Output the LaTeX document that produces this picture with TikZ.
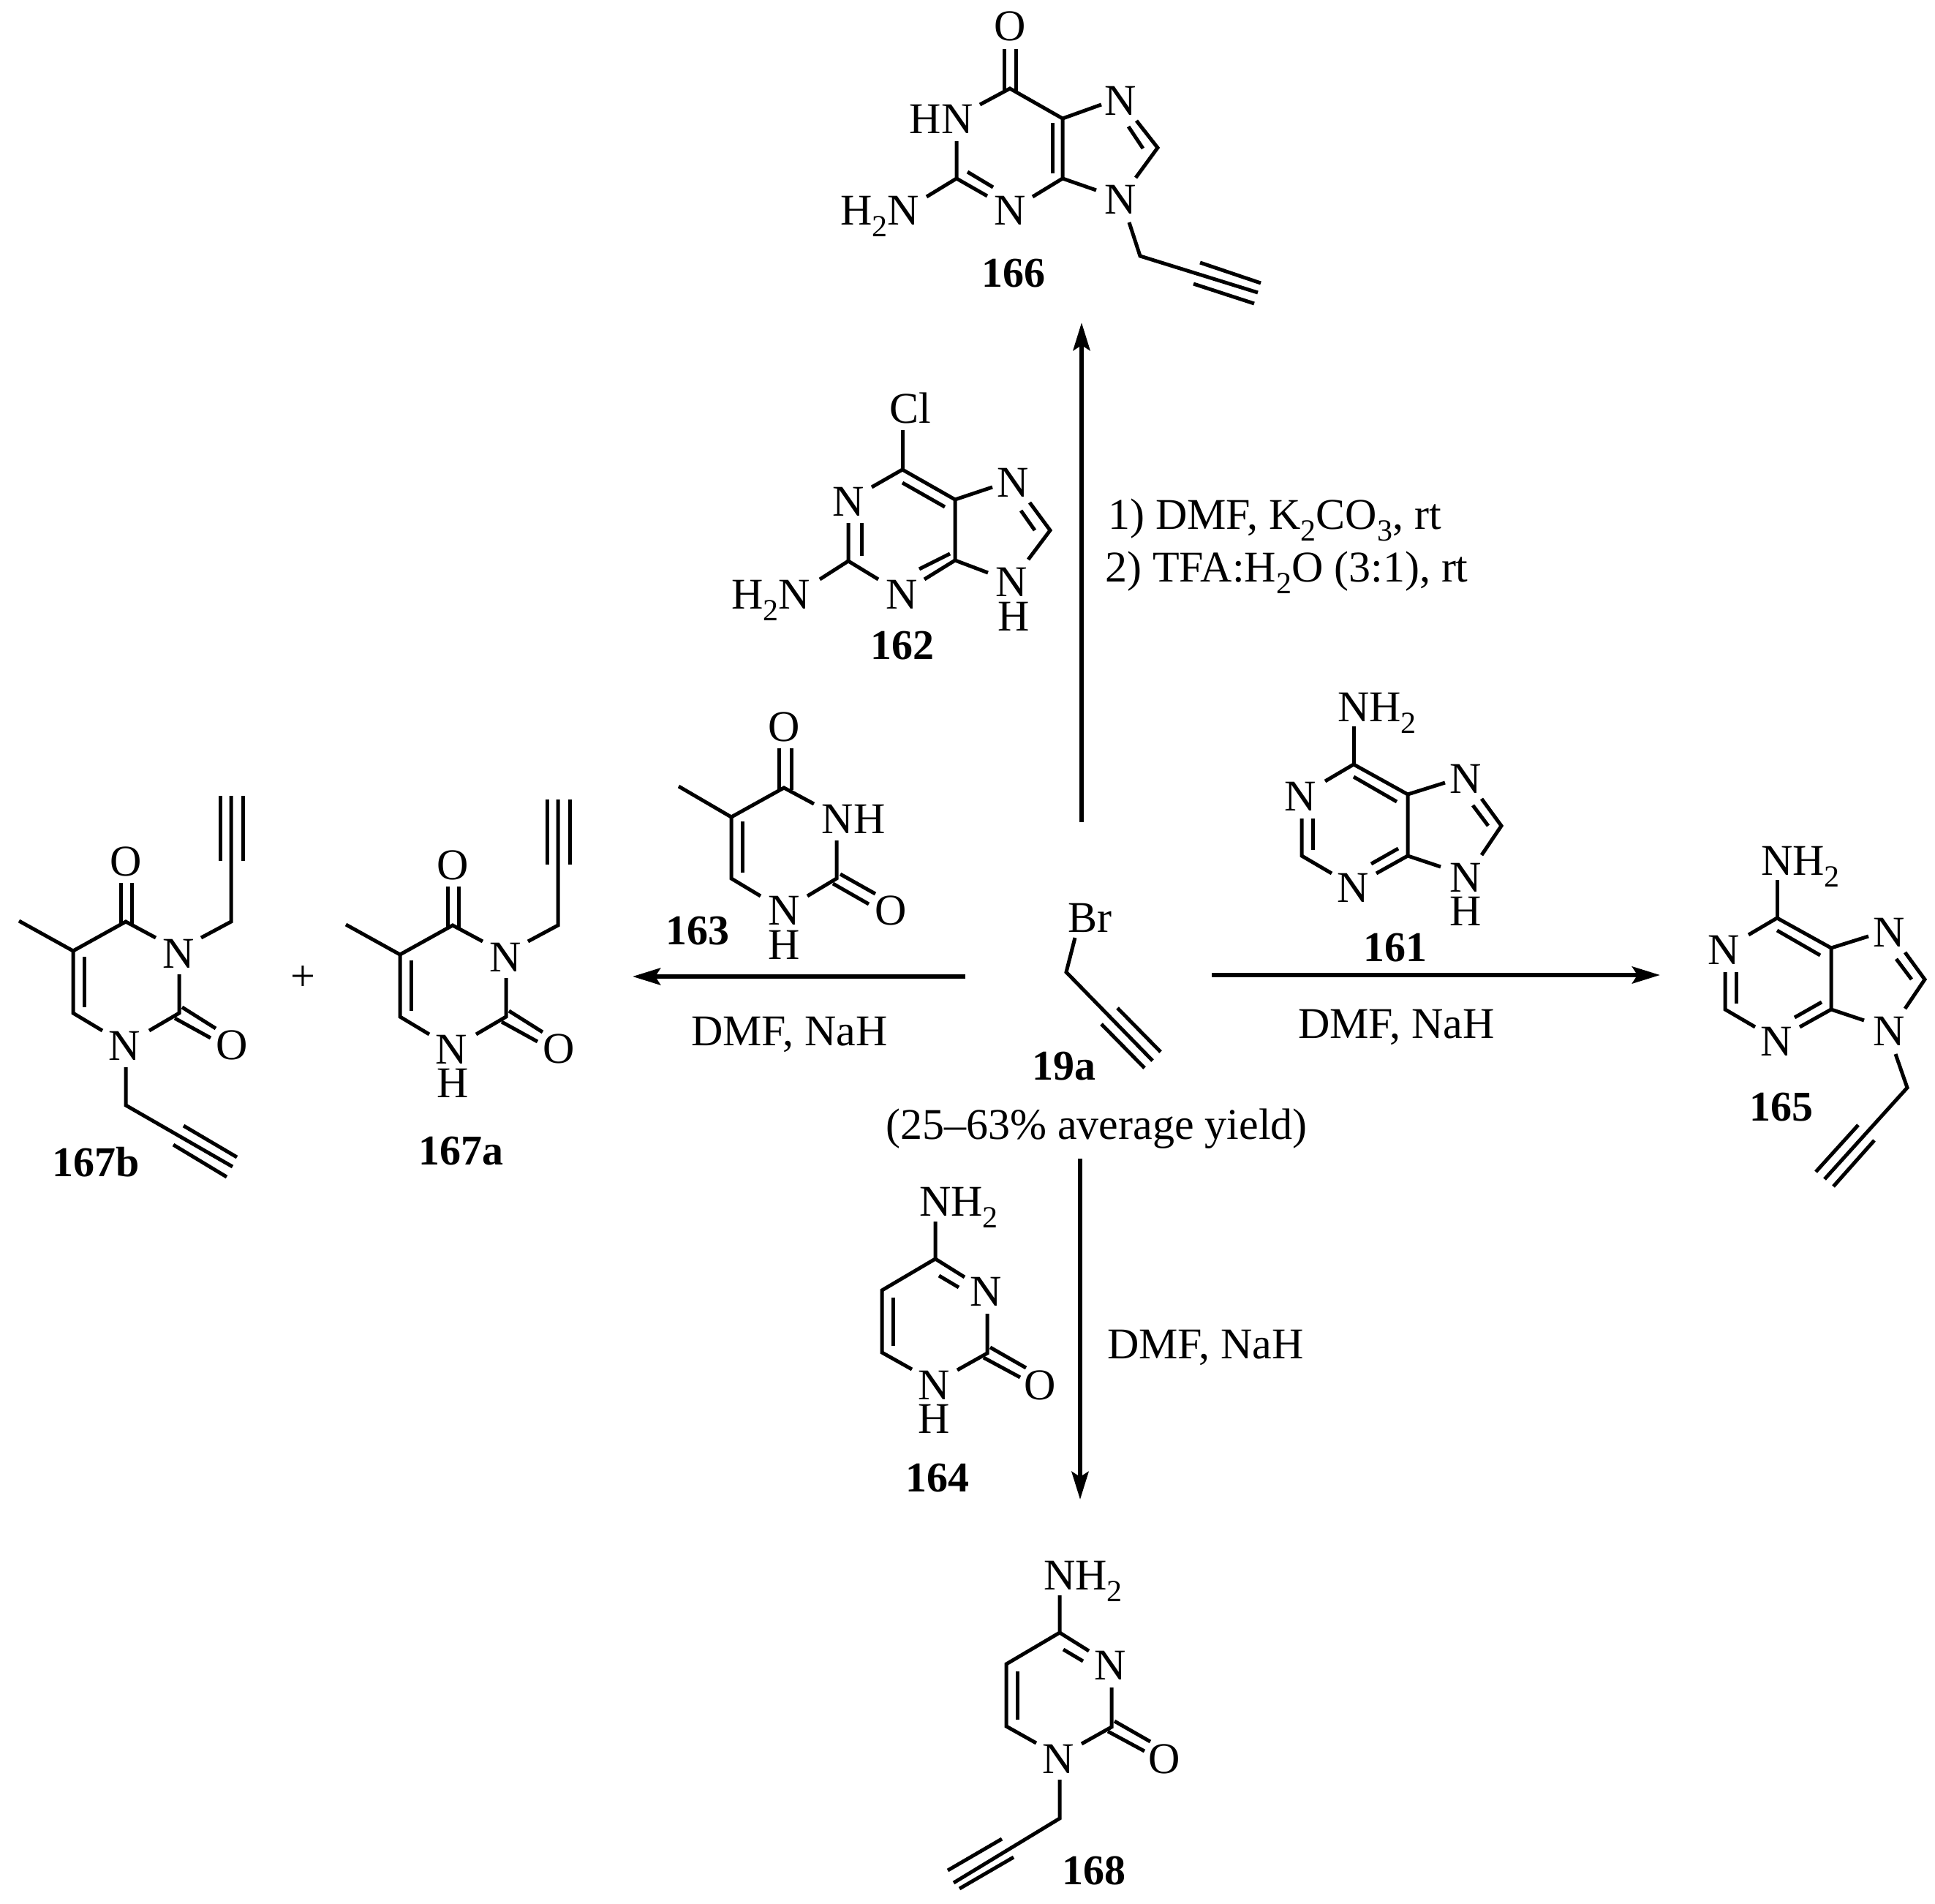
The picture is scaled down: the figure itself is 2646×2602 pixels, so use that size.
\documentclass[tikz,border=0pt]{standalone}
\usepackage{fontspec}
\setmainfont{Liberation Serif}
\usetikzlibrary{arrows.meta}
\newcommand{\subnum}[1]{\raisebox{-16pt}{\fontsize{42}{42}\selectfont #1}}
\tikzset{
  bond/.style={draw=black,line width=5pt,line join=miter},
  rxn/.style={draw=black,line width=6pt,-{Stealth[length=38pt,width=23pt,inset=7pt]}},
  atom/.style={inner sep=0pt,anchor=base,yshift=-20pt,font=\fontsize{60}{62}\selectfont},
  cpd/.style={inner sep=0pt,anchor=base,yshift=-19pt,font=\fontsize{58}{60}\selectfont\bfseries},
  cond/.style={inner sep=0pt,anchor=base west,font=\fontsize{60}{62}\selectfont},
}
% adenine skeleton, drawn at the position of 161
\newcommand{\adenineCore}{%
  \draw[bond] (1851,993)--(1851,1045);
  \draw[bond] (1812,1068)--(1851,1045)--(1925,1086)--(1925,1170)--(1970,1185);
  \draw[bond] (1851,1062)--(1910,1096);
  \draw[bond] (1976,1070)--(1925,1086);
  \draw[bond] (1780,1119)--(1780,1170)--(1821,1194);
  \draw[bond] (1795,1119)--(1795,1162);
  \draw[bond] (1882,1194)--(1925,1170);
  \draw[bond] (1875,1181)--(1912,1160);
  \draw[bond] (2026,1092)--(2053,1129)--(2026,1169);
  \draw[bond] (2014,1101)--(2035,1129);
  \node[atom] (nh) at (1883,966) {NH\subnum{2}};
  \node[atom] (n1) at (1778,1088) {N};
  \node[atom] (n3) at (1850,1213) {N};
  \node[atom] (n7) at (2004,1064) {N};
  \node[atom] (n9) at (2004,1199) {N};
}
% cytosine skeleton, drawn at the position of 164
\newcommand{\cytosineCore}{%
  \draw[bond] (1279,1670)--(1279,1721)--(1206,1764)--(1206,1849)--(1247,1872);
  \draw[bond] (1319,1746)--(1279,1721);
  \draw[bond] (1284,1744)--(1311,1760);
  \draw[bond] (1221,1774)--(1221,1840);
  \draw[bond] (1309,1873)--(1350,1850)--(1350,1796);
  \draw[bond] (1354,1842)--(1403,1870);
  \draw[bond] (1345,1856)--(1395,1883);
  \node[atom] (nh) at (1311,1642) {NH\subnum{2}};
  \node[atom] (n3) at (1348,1765) {N};
  \node[atom] (n1) at (1277,1893) {N};
  \node[atom] (o2) at (1422,1893) {O};
}
% N-propargyl thymine skeleton, drawn at the position of 167b
\newcommand{\thymineCore}{%
  \draw[bond] (165,1207)--(165,1264);
  \draw[bond] (180,1207)--(180,1264);
  \draw[bond] (26,1259)--(100,1300)--(172,1260)--(213,1282);
  \draw[bond] (100,1300)--(100,1385)--(140,1409);
  \draw[bond] (115,1308)--(115,1377);
  \draw[bond] (204,1409)--(245,1385)--(245,1332);
  \draw[bond] (249,1377)--(295,1406);
  \draw[bond] (239,1392)--(288,1419);
  \draw[bond] (275,1282)--(316,1260)--(316,1088);
  \draw[bond] (301,1088)--(301,1177);
  \draw[bond] (332,1088)--(332,1177);
  \node[atom] (o4) at (172,1177) {O};
  \node[atom] (n3) at (244,1303) {N};
  \node[atom] (n1) at (170,1429) {N};
  \node[atom] (o2) at (317,1428) {O};
}
\begin{document}
\begin{tikzpicture}[x=1pt,y=-1pt]
\useasboundingbox (0,0) rectangle (2646,2602);
\fill[white] (0,0) rectangle (2646,2602);

% ---- arrows
\coordinate (upA) at (1479,1124);
\coordinate (upB) at (1479,441);
\coordinate (dnA) at (1477,1584);
\coordinate (dnB) at (1477,2050);
\coordinate (ltA) at (1320,1335);
\coordinate (ltB) at (865,1335);
\coordinate (rtA) at (1657,1333);
\coordinate (rtB) at (2270,1333);
\draw[rxn] (upA)--(upB);
\draw[rxn] (dnA)--(dnB);
\draw[rxn] (ltA)--(ltB);
\draw[rxn] (rtA)--(rtB);

% ---- conditions
\node[cond] (c1) at (1515,723) {1) DMF, K\subnum{2}CO\subnum{3}, rt};
\node[cond] (c2) at (1511,795) {2) TFA:H\subnum{2}O (3:1), rt};
\node[cond] (c3) at (945,1429) {DMF, NaH};
\node[cond] (c4) at (1775,1419) {DMF, NaH};
\node[cond] (c5) at (1514,1857) {DMF, NaH};
\node[cond] (c6) at (1211,1557) {(25–63\% average yield)};

% ---- 166
\draw[bond] (1373,67)--(1373,126);
\draw[bond] (1389,67)--(1389,126);
\draw[bond] (1340,143)--(1381,121)--(1453,162)--(1453,244)--(1412,269);
\draw[bond] (1506,143)--(1453,162);
\draw[bond] (1453,244)--(1499,260);
\draw[bond] (1439,168)--(1439,237);
\draw[bond] (1554,165)--(1583,202)--(1553,243);
\draw[bond] (1543,173)--(1563,203);
\draw[bond] (1544,304)--(1559,350)--(1720,400);
\draw[bond] (1641,359)--(1724,387);
\draw[bond] (1632,388)--(1715,415);
\draw[bond] (1308,193)--(1308,244)--(1267,269);
\draw[bond] (1308,244)--(1350,268);
\draw[bond] (1323,235)--(1358,256);
\node[atom] (a166O) at (1381,35) {O};
\node[atom] (a166N1) at (1287,162) {HN};
\node[atom] (a166N3) at (1381,287) {N};
\node[atom] (a166NH) at (1203,287) {H\subnum{2}N};
\node[atom] (a166N7) at (1532,137) {N};
\node[atom] (a166N9) at (1532,272) {N};
\node[cpd] (l166) at (1386,373) {166};

% ---- 162
\draw[bond] (1234,588)--(1234,642);
\draw[bond] (1192,666)--(1234,642)--(1306,683)--(1306,766)--(1351,783);
\draw[bond] (1234,660)--(1292,693);
\draw[bond] (1357,666)--(1306,683);
\draw[bond] (1408,687)--(1436,725)--(1406,765);
\draw[bond] (1396,698)--(1415,725);
\draw[bond] (1264,792)--(1306,766);
\draw[bond] (1257,778)--(1299,757);
\draw[bond] (1160,715)--(1160,767)--(1201,792);
\draw[bond] (1178,715)--(1178,760);
\draw[bond] (1160,767)--(1121,792);
\node[atom] (a162Cl) at (1245,558) {Cl};
\node[atom] (a162N1) at (1160,685) {N};
\node[atom] (a162N3) at (1233,812) {N};
\node[atom] (a162NH) at (1054,812) {H\subnum{2}N};
\node[atom] (a162N7) at (1385,659) {N};
\node[atom] (a162N9) at (1383,795) {N};
\node[atom] (a162H) at (1386,842) {H};
\node[cpd] (l162) at (1234,882) {162};

% ---- 161 and 165
\begin{scope}[name prefix=a161-]
  \adenineCore
  \node[atom] (h9) at (2004,1245) {H};
\end{scope}
\node[cpd] (l161) at (1908,1295) {161};
\begin{scope}[shift={(579,210)},name prefix=a165-]
  \adenineCore
\end{scope}
\draw[bond] (2592,1441)--(2608,1487)--(2495,1612);
\draw[bond] (2541,1538)--(2483,1602);
\draw[bond] (2563,1559)--(2507,1622);
\node[cpd] (l165) at (2436,1513) {165};

% ---- 163
\draw[bond] (1065,1023)--(1065,1080);
\draw[bond] (1082,1023)--(1082,1080);
\draw[bond] (928,1075)--(1000,1117)--(1072,1077)--(1113,1099);
\draw[bond] (1000,1117)--(1000,1201)--(1040,1225);
\draw[bond] (1015,1123)--(1015,1193);
\draw[bond] (1104,1225)--(1144,1201)--(1144,1149);
\draw[bond] (1149,1195)--(1197,1222);
\draw[bond] (1139,1208)--(1188,1236);
\node[atom] (a163O4) at (1072,993) {O};
\node[atom] (a163N3) at (1167,1119) {NH};
\node[atom] (a163N1) at (1072,1244) {N};
\node[atom] (a163H) at (1072,1291) {H};
\node[atom] (a163O2) at (1218,1244) {O};
\node[cpd] (l163) at (954,1272) {163};

% ---- 19a
\draw[bond] (1470,1282)--(1458,1329)--(1576,1450);
\draw[bond] (1528,1378)--(1587,1438);
\draw[bond] (1506,1400)--(1565,1460);
\node[atom] (a19Br) at (1490,1254) {Br};
\node[cpd] (l19a) at (1455,1457) {19a};

% ---- 167b and 167a
\begin{scope}[name prefix=a167b-]
  \thymineCore
\end{scope}
\draw[bond] (172,1459)--(172,1511)--(318,1595);
\draw[bond] (251,1539)--(324,1582);
\draw[bond] (237,1565)--(310,1609);
\node[cpd] (l167b) at (131,1589) {167b};
\node[atom] (plus) at (414,1334) {+};
\begin{scope}[shift={(447,5)},name prefix=a167a-]
  \thymineCore
  \node[atom] (h1) at (172,1475) {H};
\end{scope}
\node[cpd] (l167a) at (630,1573) {167a};

% ---- 164 and 168
\begin{scope}[name prefix=a164-]
  \cytosineCore
  \node[atom] (h1) at (1277,1939) {H};
\end{scope}
\node[cpd] (l164) at (1282,2020) {164};
\begin{scope}[shift={(170,511)},name prefix=a168-]
  \cytosineCore
\end{scope}
\draw[bond] (1449,2433)--(1449,2486)--(1304,2574);
\draw[bond] (1370,2514)--(1296,2557);
\draw[bond] (1386,2539)--(1312,2582);
\node[cpd] (l168) at (1496,2557) {168};
\end{tikzpicture}
\end{document}
